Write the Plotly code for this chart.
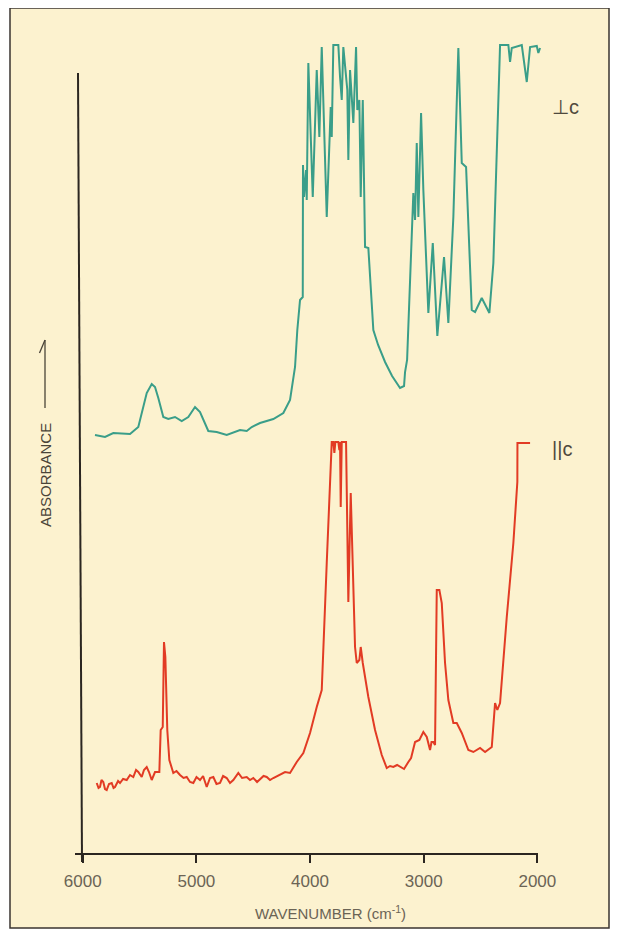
import plotly.graph_objects as go

# ---- data (wavenumber cm^-1, absorbance in arbitrary units) ----
perp_wavenumber = [5892, 5804, 5731, 5584, 5511, 5437, 5393, 5364, 5335, 5291, 5247, 5188, 5129, 5071,
                   5012, 4968, 4895, 4821, 4733, 4616, 4557, 4513, 4440, 4323, 4235, 4176, 4132, 4112,
                   4088, 4064, 4062, 4053, 4035, 4029, 4015, 3976, 3941, 3918, 3897, 3853, 3818, 3809,
                   3795, 3751, 3736, 3721, 3707, 3683, 3672, 3663, 3648, 3633, 3619, 3595, 3584, 3566,
                   3554, 3536, 3516, 3487, 3443, 3401, 3340, 3278, 3208, 3173, 3164, 3146, 3135, 3091,
                   3076, 3061, 3047, 3023, 3003, 2988, 2959, 2920, 2885, 2880, 2821, 2783, 2739, 2695,
                   2665, 2627, 2577, 2548, 2489, 2422, 2387, 2328, 2255, 2240, 2225, 2137, 2093, 2064,
                   2005, 1991, 1976]
perp_absorbance = [419, 417, 421, 420, 427, 461, 470, 467, 456, 437, 435, 437, 433, 437,
                   447, 442, 423, 422, 419, 424, 423, 427, 431, 435, 441, 454, 487, 524,
                   554, 557, 689, 657, 684, 654, 791, 657, 784, 717, 807, 637, 747, 717,
                   809, 809, 777, 754, 807, 771, 764, 694, 784, 757, 731, 807, 744, 754,
                   657, 754, 607, 606, 524, 509, 492, 478, 466, 468, 482, 494, 524, 661,
                   634, 711, 637, 741, 664, 621, 541, 611, 524, 518, 597, 531, 637, 806,
                   691, 687, 544, 542, 556, 541, 591, 809, 809, 792, 806, 809, 772, 807,
                   808, 801, 806]

par_wavenumber = [5877, 5861, 5848, 5835, 5819, 5804, 5789, 5769, 5745, 5729, 5716, 5689, 5672, 5645,
                  5613, 5584, 5555, 5531, 5511, 5481, 5461, 5437, 5417, 5393, 5364, 5326, 5314, 5296,
                  5285, 5273, 5256, 5238, 5203, 5175, 5144, 5113, 5085, 5056, 5027, 4999, 4968, 4941,
                  4909, 4880, 4851, 4823, 4792, 4765, 4733, 4704, 4675, 4631, 4598, 4557, 4528, 4499,
                  4466, 4440, 4409, 4381, 4352, 4323, 4264, 4220, 4176, 4117, 4059, 4000, 3941, 3912,
                  3897, 3853, 3809, 3795, 3786, 3777, 3751, 3742, 3736, 3730, 3721, 3683, 3663, 3642,
                  3624, 3604, 3589, 3566, 3554, 3536, 3487, 3428, 3369, 3325, 3296, 3267, 3234, 3208,
                  3173, 3135, 3111, 3076, 3038, 3003, 2973, 2944, 2931, 2915, 2900, 2885, 2862, 2841,
                  2812, 2783, 2739, 2709, 2665, 2607, 2563, 2504, 2460, 2401, 2372, 2352, 2328, 2269,
                  2211, 2176, 2175, 2064]
par_absorbance = [71, 66, 67, 74, 72, 65, 64, 70, 71, 66, 67, 73, 71, 75,
                  74, 79, 77, 84, 82, 77, 84, 87, 82, 74, 82, 82, 124, 127,
                  212, 197, 124, 94, 81, 83, 79, 76, 77, 72, 71, 77, 74, 78,
                  67, 76, 77, 70, 71, 78, 76, 71, 74, 81, 76, 77, 74, 76,
                  72, 75, 78, 77, 74, 76, 79, 82, 81, 92, 101, 121, 147, 157,
                  164, 291, 412, 412, 401, 412, 412, 404, 412, 347, 412, 412, 252, 361,
                  281, 207, 191, 194, 207, 191, 157, 124, 99, 86, 88, 87, 89, 87,
                  85, 92, 96, 112, 114, 122, 117, 104, 112, 112, 109, 264, 264, 251,
                  191, 154, 131, 131, 121, 104, 102, 106, 102, 107, 151, 144, 151, 237,
                  311, 372, 411, 411]

tick_values = [6000, 5000, 4000, 3000, 2000]
tick_labels = ["6000", "5000", "4000", "3000", "2000"]

# ---- figure (page body has an 8 px margin, so the figure is 8 px smaller) ----
OFF = 8
W, H = 618 - OFF, 935 - OFF
L = 75 - OFF
T = 40 - OFF
R = W - (542 - OFF)
B = H - (854 - OFF)
pw, ph = W - L - R, H - T - B


def px(x):  # screen pixel -> paper
    return (x - OFF - L) / pw


def py(y):
    return (854 - y) / ph


TEAL = "#3a9e89"
RED = "#e23b24"
INK = "#2b2620"
GREY = "#6b6455"
CREAM = "#fcf2cf"
FONT = "Liberation Sans, Arial, sans-serif"

fig = go.Figure()
fig.add_trace(go.Scatter(x=perp_wavenumber, y=perp_absorbance, mode="lines",
                         line=dict(color=TEAL, width=2), showlegend=False))
fig.add_trace(go.Scatter(x=par_wavenumber, y=par_absorbance, mode="lines",
                         line=dict(color=RED, width=2), showlegend=False))

shapes = [
    # page frame
    dict(type="rect", xref="paper", yref="paper", x0=px(10), x1=px(609), y0=py(928), y1=py(8),
         fillcolor=CREAM, line=dict(color="#3a3530", width=1.5), layer="below"),
    # x axis line
    dict(type="line", xref="paper", yref="paper", x0=px(75), x1=px(538), y0=0, y1=0,
         line=dict(color=INK, width=2)),
    # y axis line
    dict(type="line", xref="paper", yref="paper", x0=px(82), x1=px(78), y0=py(862), y1=py(73),
         line=dict(color=INK, width=2)),
    # absorbance arrow
    dict(type="line", xref="paper", yref="paper", x0=px(45), x1=px(45), y0=py(408), y1=py(340),
         line=dict(color="#4a4438", width=1.3)),
    dict(type="line", xref="paper", yref="paper", x0=px(45), x1=px(39.5), y0=py(340), y1=py(353),
         line=dict(color="#4a4438", width=1.3)),
]

annotations = [
    dict(text="WAVENUMBER (cm<sup>-1</sup>)", xref="paper", yref="paper", x=px(330), y=py(912),
         showarrow=False, font=dict(family=FONT, size=15, color=GREY), xanchor="center", yanchor="middle"),
    dict(text="ABSORBANCE", xref="paper", yref="paper", x=px(46), y=py(475), textangle=-90,
         showarrow=False, font=dict(family=FONT, size=15, color="#4a4438"), xanchor="center", yanchor="middle"),
    dict(text="⊥c", xref="paper", yref="paper", x=px(550), y=py(107), xanchor="left", yanchor="middle",
         showarrow=False, font=dict(family=FONT, size=20, color="#4f493d")),
    dict(text="||c", xref="paper", yref="paper", x=px(550), y=py(449), xanchor="left", yanchor="middle",
         showarrow=False, font=dict(family=FONT, size=20, color="#4f493d")),
]

fig.update_layout(
    width=W, height=H, autosize=False,
    margin=dict(l=L, r=R, t=T, b=B, pad=0),
    paper_bgcolor="white", plot_bgcolor="rgba(0,0,0,0)",
    shapes=shapes, annotations=annotations, showlegend=False,
    xaxis=dict(range=[6068, 1959], tickvals=tick_values, ticktext=tick_labels,
               ticks="outside", ticklen=8, tickwidth=2, tickcolor=INK,
               ticklabelstandoff=4,
               showline=False, showgrid=False, zeroline=False,
               tickfont=dict(family=FONT, size=17, color=GREY)),
    yaxis=dict(range=[0, ph], visible=False, showgrid=False, zeroline=False),
)

fig.write_html("out.html")
